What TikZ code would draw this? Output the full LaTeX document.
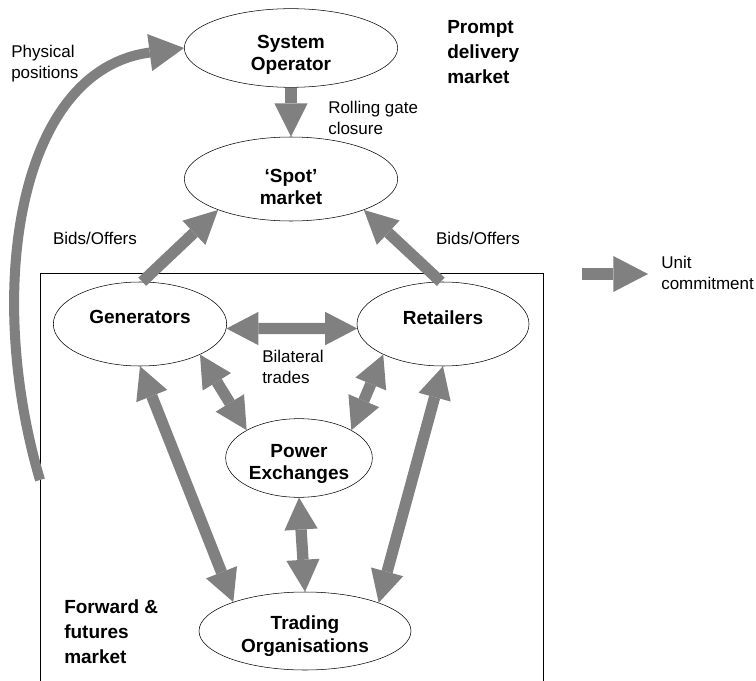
\documentclass[tikz,border=0pt]{standalone}
\usepackage{fontspec}
\setmainfont{Liberation Sans}
\usetikzlibrary{arrows.meta,shapes.geometric}
\definecolor{flowgray}{RGB}{128,128,128}
\newcommand{\toppad}[1]{\rule{0pt}{#1}}
\tikzset{
    market-node/.style = {draw=black, thin, ellipse, fill=white, inner sep=0pt, align=center, font=\fontsize{14.25}{17}\selectfont\bfseries},
    flow-arrow/.style = {draw=flowgray, line width=8.5pt, -{Triangle[length=25pt, width=25pt, line width=0pt]}},
    flow-both/.style = {flow-arrow, {Triangle[length=24pt, width=25pt, line width=0pt]}-{Triangle[length=24pt, width=25pt, line width=0pt]}},
    note-text/.style = {align=left, inner sep=0pt, font=\fontsize{12.75}{15.75}\selectfont},
    zone-title/.style = {align=left, inner sep=0pt, font=\fontsize{14.25}{18.75}\selectfont\bfseries},
}

\begin{document}
\begin{tikzpicture}[x=0.75pt, y=-0.75pt]
\useasboundingbox (0,0) rectangle (756,681);

% forward market frame
\draw[thin] (40,681) |- (543,273) -- (543,681);

% markets and players
\node[market-node, minimum width=160pt, minimum height=59pt] (so) at (291,48) {\toppad{20pt}System\\Operator};
\node[market-node, minimum width=160pt, minimum height=63pt] (spot) at (291,179) {\toppad{22pt}`Spot'\\market};
\node[market-node, minimum width=130pt, minimum height=63pt, text depth=10pt] (gen) at (140,324) {Generators};
\node[market-node, minimum width=129pt, minimum height=63pt, text depth=10pt] (ret) at (443,324) {Retailers};
\node[market-node, minimum width=110pt, minimum height=59pt] (pe) at (299,458) {\toppad{19pt}Power\\Exchanges};
\node[market-node, minimum width=159pt, minimum height=58.5pt] (to) at (305,631) {\toppad{18pt}Trading\\Organisations};

% labels
\node[note-text, anchor=west] (physlbl) at (11,64) {Physical\\positions};
\node[zone-title, anchor=west] (prompt) at (447,52) {Prompt\\delivery\\market};
\node[note-text, anchor=west] (gatelbl) at (328,118) {Rolling gate\\closure};
\node[note-text] (bidsl) at (95,238) {Bids/Offers};
\node[note-text] (bidsr) at (478,238) {Bids/Offers};
\node[note-text, anchor=west] (bilat) at (262,367) {Bilateral\\trades};
\node[note-text, anchor=west] (unitlbl) at (661,273) {Unit\\commitment};
\node[zone-title, anchor=west] (fwd) at (64,632) {Forward \&\\futures\\market};

% flows
\coordinate (physpos) at (40,480);
\draw[flow-arrow, line width=7.5pt, -{Triangle[length=26pt, width=28pt, line width=0pt]}]
    (physpos) .. controls (-16,290) and (18,70) .. (so.west);
\draw[flow-arrow] (so.south) -- (spot.north);
\draw[flow-arrow] (gen.87) -- (spot.-157);
\draw[flow-arrow] (ret.93) -- (spot.-23);
\draw[flow-both] (gen.-3) -- (ret.-177);
\draw[flow-both] (gen.-27) -- (pe.152);
\draw[flow-both] (ret.-153) -- (pe.28);
\draw[flow-both] (gen.south) -- (to.158);
\draw[flow-both] (ret.south) -- (to.21);
\draw[flow-both] (pe.south) -- (to.north);

% legend
\coordinate (legend-a) at (582,274);
\coordinate (legend-b) at (648,274);
\draw[flow-arrow, line width=9pt, -{Triangle[length=26pt, width=27pt, line width=0pt]}] (legend-a) -- (legend-b);
\end{tikzpicture}
\end{document}
